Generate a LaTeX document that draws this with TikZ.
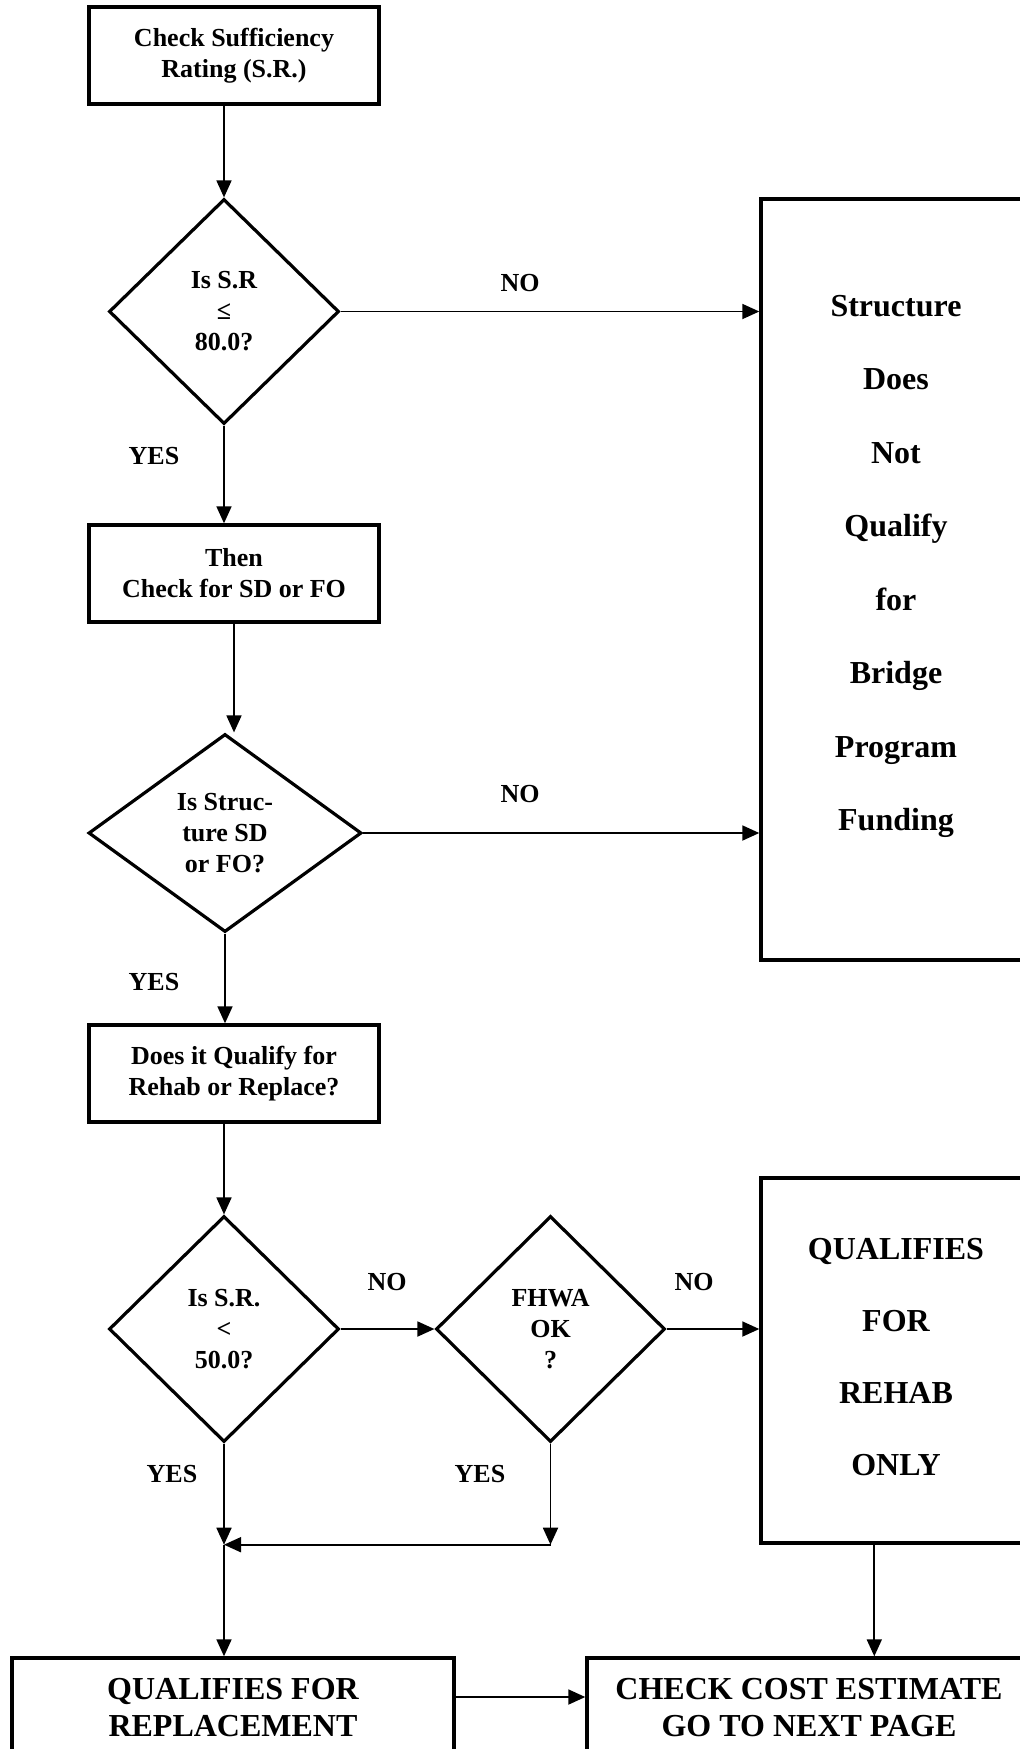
\documentclass[tikz,border=0pt]{standalone}
\usepackage{fontspec}
\setmainfont{Liberation Serif}
\usetikzlibrary{arrows.meta,shapes.geometric,calc}
\newcommand{\smallf}{\fontsize{26}{31}\selectfont\bfseries}
\newcommand{\bigf}{\fontsize{32}{37}\selectfont\bfseries}
\begin{document}
\begin{tikzpicture}[x=1pt,y=-1pt,
  box/.style={draw,rectangle,line width=3.4pt,inner sep=0pt,align=center,font=\smallf},
  bigbox/.style={draw,rectangle,line width=3.4pt,inner sep=0pt,align=center,font=\bigf},
  dia/.style={draw,diamond,line width=3.2pt,inner sep=0pt,align=center,font=\smallf},
  lbl/.style={inner sep=0pt,font=\smallf},
  bigtxt/.style={inner sep=0pt,align=center},
  arr/.style={-{Triangle[length=17pt,width=15pt]},line width=1.8pt}]
\useasboundingbox (0,0) rectangle (1020,1749);
\clip (0,0) rectangle (1020,1749);
% boxes
\node[box,minimum width=290pt,minimum height=97pt] (b1) at (234,55.5) {Check Sufficiency\\Rating (S.R.)};
\node[box,minimum width=290pt,minimum height=97pt] (b2) at (234,573.5) {Then\\Check for SD or FO};
\node[box,minimum width=290pt,minimum height=97pt] (b3) at (234,1073.5) {Does it Qualify for\\Rehab or Replace?};
% diamonds
\node[dia,minimum width=230pt,minimum height=225pt] (d1) at (224,311.5) {Is S.R\\≤\\80.0?};
\node[dia,minimum width=273pt,minimum height=198pt] (d2) at (225,833) {Is Struc-\\ture SD\\or FO?};
\node[dia,minimum width=230pt,minimum height=226pt] (d3) at (224,1329) {Is S.R.\\<\\50.0?};
\node[dia,minimum width=229pt,minimum height=226pt] (d4) at (550.5,1329) {FHWA\\OK\\?};
% right boxes
\node[draw,rectangle,line width=3.4pt,inner sep=0pt,minimum width=270pt,minimum height=761pt] (r1) at (896,579.5) {};
\node[bigtxt,font={\fontsize{32}{73.5}\selectfont\bfseries}] (r1t) at (896,566.5) {Structure\\Does\\Not\\Qualify\\for\\Bridge\\Program\\Funding};
\node[draw,rectangle,line width=3.4pt,inner sep=0pt,minimum width=270pt,minimum height=365pt] (r2) at (896,1360.5) {};
\node[bigtxt,font={\fontsize{32}{72}\selectfont\bfseries}] (r2t) at (896,1357) {QUALIFIES\\FOR\\REHAB\\ONLY};
% bottom boxes
\node[bigbox,minimum width=442pt,minimum height=100pt] (bl) at (233,1708) {QUALIFIES FOR\\REPLACEMENT};
\node[bigbox,minimum width=444pt,minimum height=100pt] (br) at (809,1708) {CHECK COST ESTIMATE\\GO TO NEXT PAGE};
% labels
\node[lbl] (no1) at (520,283) {NO};
\node[lbl] (no2) at (520,794) {NO};
\node[lbl] (no3) at (387,1282) {NO};
\node[lbl] (no4) at (694,1282) {NO};
\node[lbl] (yes1) at (154,456) {YES};
\node[lbl] (yes2) at (154,982) {YES};
\node[lbl] (yes3) at (172,1474) {YES};
\node[lbl] (yes4) at (480,1474) {YES};
% connectors
\draw[arr] (d1.north |- b1.south) -- (d1.north);
\draw[arr] (d1.east) -- (d1.east -| r1.west);
\draw[arr] (d1.south) -- (d1.south |- b2.north);
\draw[arr] (b2.south) -- (b2.south |- d2.north);
\draw[arr] (d2.east) -- (d2.east -| r1.west);
\draw[arr] (d2.south) -- (d2.south |- b3.north);
\draw[arr] (d3.north |- b3.south) -- (d3.north);
\draw[arr] (d3.east) -- (d4.west);
\draw[arr] (d4.east) -- (d4.east -| r2.west);
\coordinate (j) at (d3.south |- r2.south);
\coordinate (k) at (d4.south |- r2.south);
\draw[arr] (d3.south) -- (j);
\draw[arr] (d4.south) -- (k);
\draw[arr] (k) -- (j);
\draw[arr] (j) -- (j |- bl.north);
\path (r2.south west) ++(115pt,0pt) coordinate (r2o);
\draw[arr] (r2o) -- (r2o |- br.north);
\draw[arr] ([yshift=11pt]bl.east) -- ([yshift=11pt]br.west);
\end{tikzpicture}
\end{document}
